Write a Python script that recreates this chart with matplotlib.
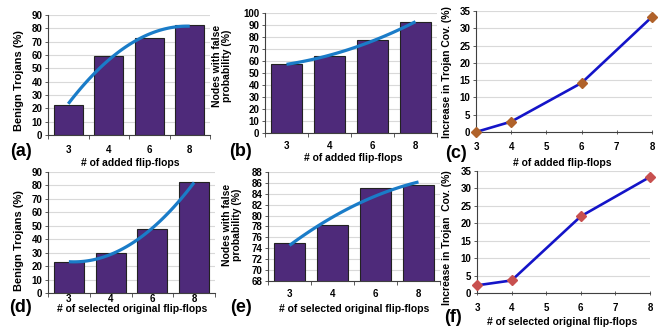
import matplotlib
matplotlib.use("Agg")
import matplotlib.pyplot as plt
import numpy as np

plt.rcParams['font.family'] = ['Liberation Sans', 'DejaVu Sans']
plt.rcParams['font.weight'] = 'bold'

# data
ff_cats = ['3', '4', '6', '8']
benign_added = [22.5, 59, 73, 82.5]
nodes_added = [57.5, 64, 77.5, 92.5]
cov_added_x = [3, 4, 6, 8]
cov_added = [0, 3, 14.2, 33.3]
benign_sel = [23, 29.5, 47.5, 82.5]
nodes_sel = [75, 78.3, 85, 85.7]
cov_sel_x = [3, 4, 6, 8]
cov_sel = [2.2, 3.6, 22, 33.3]

W, H = 670, 331
BAR = '#4E2A7A'
TREND = '#1A7CC8'
LINE = '#1414C8'
GRID = '#D9D9D9'

fig = plt.figure(figsize=(W / 100, H / 100), dpi=100)


def px_axes(l, t, r, b):
    return fig.add_axes([l / W, 1 - b / H, (r - l) / W, (b - t) / H])


def ftext(x, y, s, **kw):
    fig.text(x / W, 1 - y / H, s, ha='center', va='center', **kw)


def style(ax, ylim, yticks, pad):
    ax.set_ylim(*ylim)
    ax.set_yticks(yticks)
    ax.yaxis.grid(True, color=GRID, lw=0.8)
    ax.set_axisbelow(True)
    for s in ['top', 'right']:
        ax.spines[s].set_visible(False)
    ax.spines['left'].set_color('#404040')
    ax.spines['bottom'].set_color('#404040')
    ax.tick_params(axis='y', length=2, width=0.6, pad=2, labelsize=7, color='#404040')
    ax.tick_params(axis='x', labelsize=7, pad=pad, color='#404040')


def bar_panel(rect, vals, ylim, yticks, pad):
    ax = px_axes(*rect)
    pos = np.arange(len(vals))
    ax.bar(pos, vals, width=0.72, color=BAR, edgecolor='#222222', lw=0.8)
    # quadratic trend line like the spreadsheet
    c = np.polyfit(pos, vals, 2)
    xs = np.linspace(pos[0], pos[-1], 100)
    ax.plot(xs, np.polyval(c, xs), color=TREND, lw=2.3, solid_capstyle='butt')
    ax.set_xlim(-0.5, len(vals) - 0.5)
    ax.set_xticks(pos)
    ax.set_xticklabels(ff_cats)
    ax.set_xticks(np.arange(-0.5, len(vals)), minor=True)
    ax.tick_params(axis='x', which='major', length=0)
    ax.tick_params(axis='x', which='minor', length=3, width=0.6, color='#404040')
    style(ax, ylim, yticks, pad)
    return ax


def line_panel(rect, xv, yv, mcol, pad):
    ax = px_axes(*rect)
    ax.plot(xv, yv, color=LINE, lw=1.9, marker='D', markersize=5.5,
            markerfacecolor=mcol, markeredgecolor=mcol, clip_on=False, zorder=3)
    ax.set_xlim(3, 8)
    ax.set_xticks(range(3, 9))
    ax.tick_params(axis='x', length=3, width=0.6, direction='inout')
    style(ax, (0, 35), range(0, 36, 5), pad)
    return ax


bar_panel((48, 15, 210, 135), benign_added, (0, 90), range(0, 91, 10), 7)
bar_panel((265, 13, 437, 133), nodes_added, (0, 100), range(0, 101, 10), 6)
line_panel((476, 11, 652, 132), cov_added_x, cov_added, '#B0622A', 6)
bar_panel((48, 172, 215, 293), benign_sel, (0, 90), range(0, 91, 10), 1)
bar_panel((268, 172, 440, 281), nodes_sel, (68, 88), range(68, 89, 2), 6)
line_panel((477, 171, 650, 293), cov_sel_x, cov_sel, '#C8504F', 6)

# axis titles
ylab = dict(rotation=90, fontsize=7.5, fontweight='bold')
ftext(19, 81, 'Benign Trojans (%)', rotation=90, fontsize=8, fontweight='bold')
ftext(222, 66, 'Nodes with false\nprobability (%)', linespacing=1.1, **ylab)
ftext(447, 72, 'Increase in Trojan Cov. (%)', **ylab)
ftext(19, 241, 'Benign Trojans (%)', rotation=90, fontsize=8, fontweight='bold')
ftext(232, 225, 'Nodes with false\nprobability (%)', linespacing=1.1, **ylab)
ftext(447, 238, 'Increase in Trojan  Cov. (%)', **ylab)

xlab = dict(fontsize=7.5, fontweight='bold')
ftext(130, 163, '# of added flip-flops', **xlab)
ftext(353, 158, '# of added flip-flops', **xlab)
ftext(562, 163, '# of added flip-flops', **xlab)
ftext(132, 309, '# of selected original flip-flops', **xlab)
ftext(354, 309, '# of selected original flip-flops', **xlab)
ftext(562, 322, '# of selected original flip-flops', **xlab)

# panel letters
plab = dict(fontsize=13, fontweight='bold')
ftext(21, 152, '(a)', **plab)
ftext(241, 152, '(b)', **plab)
ftext(456, 153, '(c)', **plab)
ftext(21, 307, '(d)', **plab)
ftext(241, 307, '(e)', **plab)
ftext(453, 317, '(f)', **plab)

fig.savefig('out.png', dpi=100)
